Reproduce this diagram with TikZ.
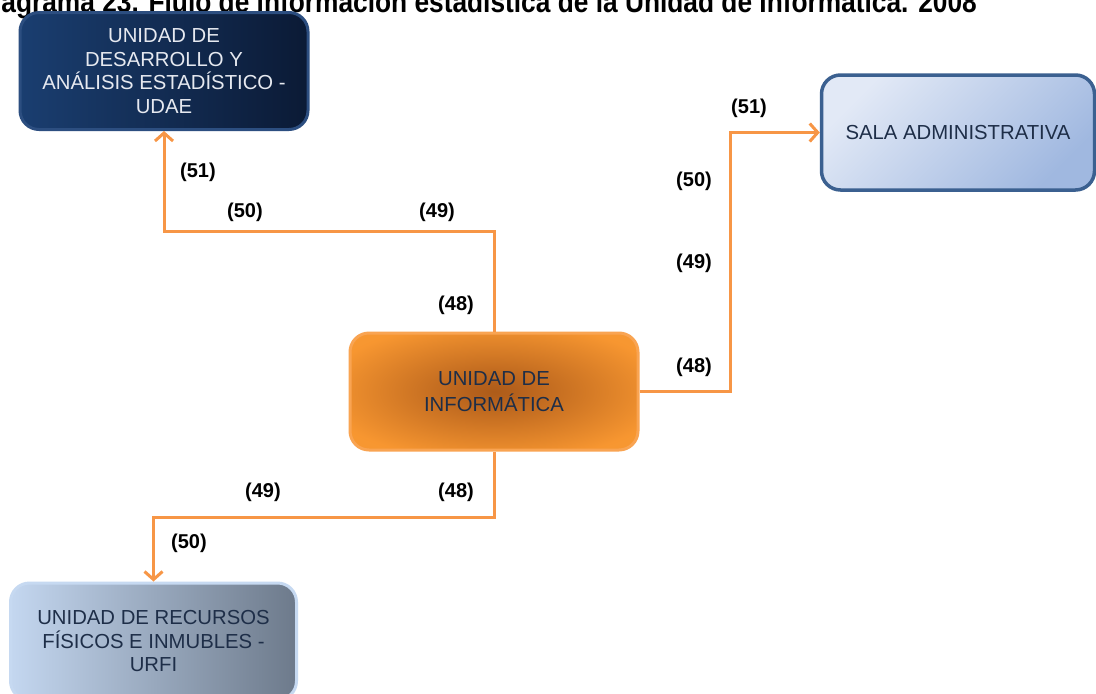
\documentclass[tikz,border=0pt]{standalone}
\usepackage{fontspec}
\setmainfont{Liberation Sans}
\usetikzlibrary{arrows.meta,shadings}
\definecolor{conn}{HTML}{F79646}
\definecolor{udaeL}{HTML}{1A3E70}
\definecolor{udaeR}{HTML}{0B1A35}
\definecolor{udaeB}{HTML}{2C4E80}
\definecolor{udaeT}{HTML}{E6E9F0}
\definecolor{salaA}{HTML}{E2E9F6}
\definecolor{salaB}{HTML}{A0B8E0}
\definecolor{salaBorder}{HTML}{3B6090}
\definecolor{infB}{HTML}{F9A452}
\definecolor{urfiL}{HTML}{C4D7F0}
\definecolor{urfiR}{HTML}{6D7A8B}
\definecolor{urfiB}{HTML}{C6D9F1}
\definecolor{navytext}{HTML}{1E2E48}
\pgfdeclareradialshading{infshade}{\pgfpoint{0bp}{0bp}}{rgb(0bp)=(0.68,0.36,0.10); rgb(4bp)=(0.71,0.38,0.11); rgb(30bp)=(0.97,0.59,0.19); rgb(50bp)=(0.97,0.60,0.20)}
\tikzset{
  box/.style={rounded corners=19pt, minimum width=288pt, minimum height=117pt,
    align=center, inner sep=0pt, font=\fontsize{20.3}{23.5}\selectfont},
  udaebox/.style={box, draw=udaeB, line width=3pt, left color=udaeL, right color=udaeR, text=udaeT},
  salabox/.style={box, draw=salaBorder, line width=3.5pt, top color=salaA, bottom color=salaB, shading angle=45, text=navytext, minimum width=273pt, minimum height=115pt},
  infbox/.style={box, draw=infB, line width=3pt, shading=infshade, text=navytext, font=\fontsize{20.3}{26}\selectfont},
  urfibox/.style={box, draw=urfiB, line width=3pt, left color=urfiL, right color=urfiR, text=navytext, minimum width=286pt},
  conn/.style={draw=conn, line width=3pt, -{Straight Barb[length=8pt,width=18pt,line width=3pt]}},
  lbl/.style={font=\fontsize{20}{22}\selectfont\bfseries, text=black, inner sep=0pt},
  titletext/.style={font=\fontsize{26.3}{30}\selectfont\bfseries, text=black, inner sep=0pt}
}
\begin{document}
\begin{tikzpicture}[x=1pt,y=-1pt]
\useasboundingbox (0,0) rectangle (1096,694);
\clip (0,0) rectangle (1096,694);
\fill[white] (0,0) rectangle (1096,694);
\node[titletext, anchor=base east] (title) at (977,12.5) {\scalebox{1}[1.15]{Diagrama 23. Flujo de información estadística de la Unidad de Informática. 2008}};
\node[udaebox] (udae) at (164,71) {UNIDAD DE\\DESARROLLO Y\\ANÁLISIS ESTADÍSTICO -\\UDAE};
\node[salabox] (sala) at (958,132.5) {SALA ADMINISTRATIVA};
\node[infbox] (inf) at (494,391.5) {UNIDAD DE\\INFORMÁTICA};
\node[urfibox] (urfi) at (153.5,641.5) {UNIDAD DE RECURSOS\\FÍSICOS E INMUBLES -\\URFI};
\draw[conn] (inf.north) -- ++(0,-100) -| (udae.south);
\draw[conn] (inf.east) -- ++(91,0) |- (sala.west);
\draw[conn] (inf.south) -- ++(0,66) -| (urfi.north);
\node[lbl] (a51) at (198,172) {(51)};
\node[lbl] (a50) at (245,212) {(50)};
\node[lbl] (a49) at (437,212) {(49)};
\node[lbl] (a48) at (456,305) {(48)};
\node[lbl] (b51) at (749,108) {(51)};
\node[lbl] (b50) at (694,181) {(50)};
\node[lbl] (b49) at (694,263) {(49)};
\node[lbl] (b48) at (694,367) {(48)};
\node[lbl] (c49) at (263,492) {(49)};
\node[lbl] (c48) at (456,492) {(48)};
\node[lbl] (c50) at (189,543) {(50)};
\end{tikzpicture}
\end{document}
